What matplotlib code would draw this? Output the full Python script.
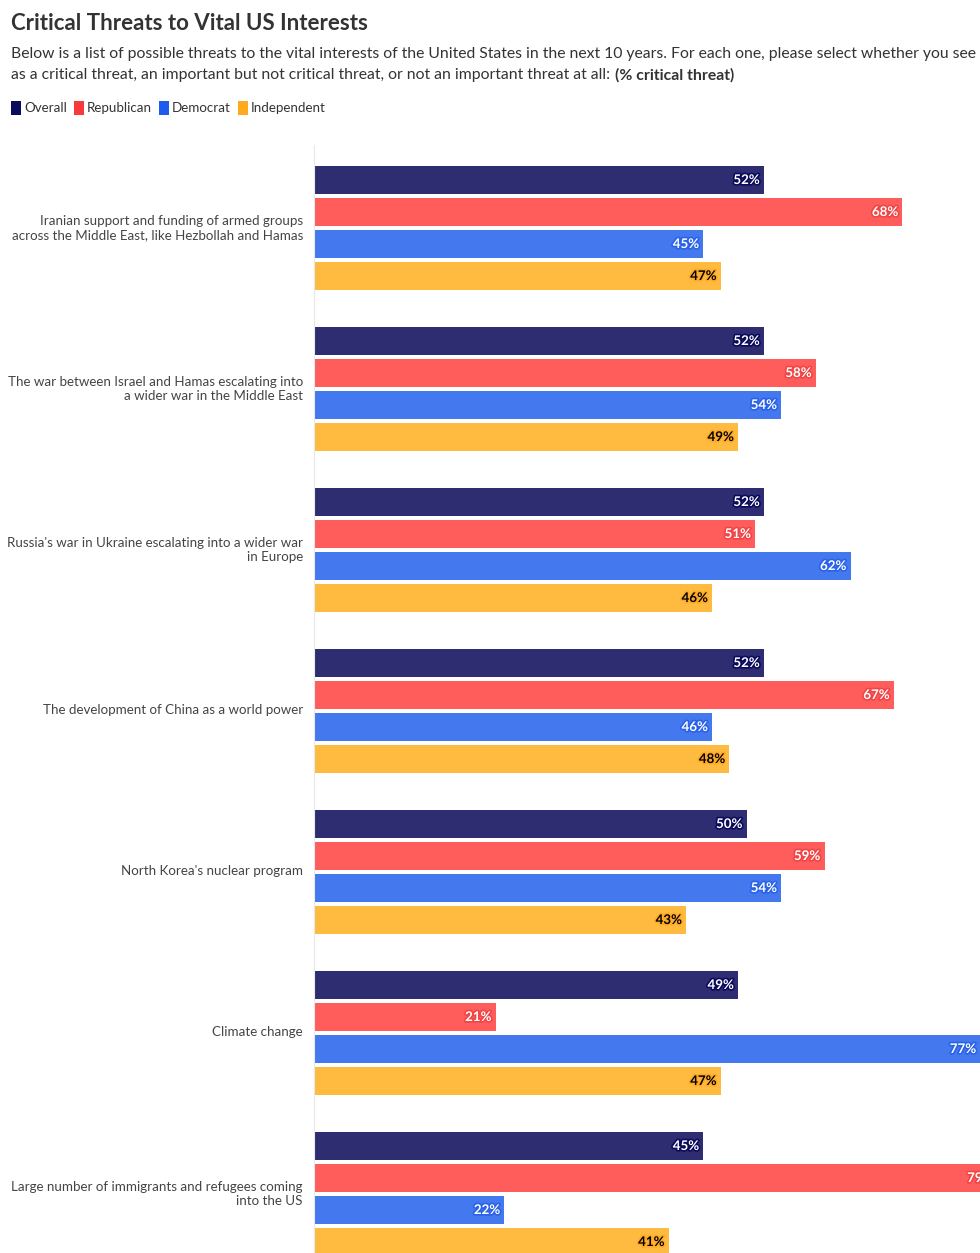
import matplotlib.pyplot as plt
import matplotlib.patheffects as pe
from matplotlib.patches import Patch
import numpy as np

plt.rcParams['font.family'] = ['Lato', 'DejaVu Sans']

# data
categories = [
    "Iranian support and funding of armed groups\nacross the Middle East, like Hezbollah and Hamas",
    "The war between Israel and Hamas escalating into\na wider war in the Middle East",
    "Russia's war in Ukraine escalating into a wider war\nin Europe",
    "The development of China as a world power",
    "North Korea's nuclear program",
    "Climate change",
    "Large number of immigrants and refugees coming\ninto the US",
]
series = ["Overall", "Republican", "Democrat", "Independent"]
overall = [52, 52, 52, 52, 50, 49, 45]
republican = [68, 58, 51, 67, 59, 21, 79]
democrat = [45, 54, 62, 46, 54, 77, 22]
independent = [47, 49, 46, 48, 43, 47, 41]

bar_colors = ['#2e2d72', '#ff5c5c', '#4378ef', '#ffba40']
legend_colors = ['#0b0b5c', '#f73b3b', '#1f5bef', '#ffa91f']
text_colors = ['white', 'white', 'white', 'black']
halo_colors = ['#0b0b5c', '#f04545', '#2a62e8', '#ffab28']

W, H = 980, 1253
fig = plt.figure(figsize=(W / 100, H / 100), dpi=100)

# axes: left at x=314px, top at y=145px, running off the right/bottom edge
x0, xmax_pct, px_per_pct = 314, 80, 8.654
ax_w = xmax_pct * px_per_pct
ax = fig.add_axes([x0 / W, 0, ax_w / W, (H - 145) / H])

unit = 32.0          # px per bar slot
group_pitch = 161 / unit
top = -(180 - 145) / unit
bottom = (H - 180) / unit

all_vals = [overall, republican, democrat, independent]
ypos = np.arange(len(categories)) * group_pitch
for s, vals in enumerate(all_vals):
    y = ypos + s
    ax.barh(y, vals, height=28 / unit, color=bar_colors[s], clip_on=True)
    for yy, v in zip(y, vals):
        ax.annotate(f"{v}%", (v, yy), xytext=(-3, 0), textcoords='offset points',
                    ha='right', va='center', fontsize=9.6, fontweight='bold',
                    color=text_colors[s],
                    path_effects=[pe.withStroke(linewidth=2.4, foreground=halo_colors[s])])

ax.set_xlim(0, xmax_pct)
ax.set_ylim(bottom, top)
ax.set_yticks(ypos + 1.45)
ax.set_yticklabels(categories, fontsize=9.6, color='#444444', linespacing=1.2)
ax.tick_params(axis='y', length=0, pad=8)
ax.set_xticks([])
for sp in ['top', 'right', 'bottom']:
    ax.spines[sp].set_visible(False)
ax.spines['left'].set_color('#e8e8e8')
ax.spines['left'].set_linewidth(0.8)

# title & subtitle
fig.text(11 / W, 1 - 24 / H, "Critical Threats to Vital US Interests", fontsize=16,
         fontweight='bold', color='#333333', va='center', ha='left')
fig.text(11 / W, 1 - 54 / H,
         "Below is a list of possible threats to the vital interests of the United States in the next 10 years. "
         "For each one, please select whether you see this",
         fontsize=11.3, color='#333333', va='center', ha='left')
sub2 = fig.text(11 / W, 1 - 75 / H,
                "as a critical threat, an important but not critical threat, or not an important threat at all:",
                fontsize=11.3, color='#333333', va='center', ha='left')
fig.canvas.draw()
bb = sub2.get_window_extent()
fig.text((bb.x1 + 5) / W, 1 - 75 / H, "(% critical threat)", fontsize=11.3, fontweight='bold',
         color='#333333', va='center', ha='left')

handles = [Patch(facecolor=c, edgecolor='none') for c in legend_colors]
fig.legend(handles, series, loc='center left', bbox_to_anchor=(11 / W, 1 - 108 / H),
           ncol=4, frameon=False, fontsize=9.6, handlelength=0.75, handleheight=1.2,
           handletextpad=0.25, columnspacing=0.5, labelcolor='#333333', borderpad=0,
           borderaxespad=0)

fig.savefig('out.png', dpi=100)
